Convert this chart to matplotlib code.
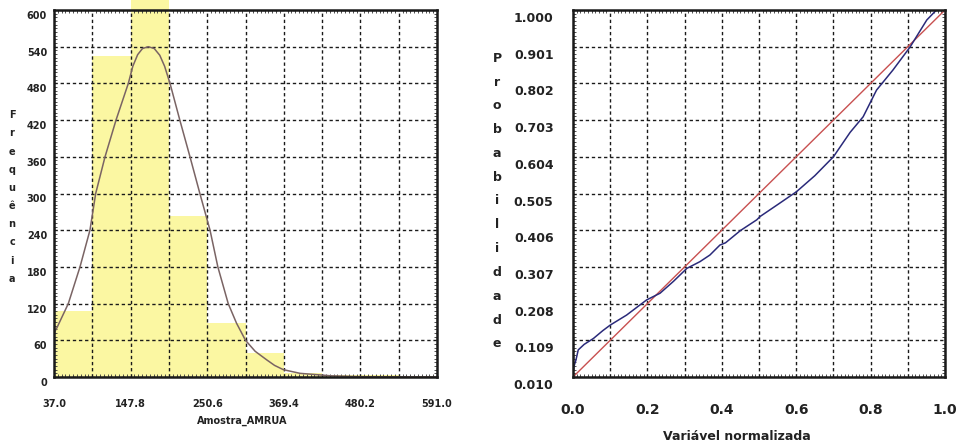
import matplotlib
matplotlib.use('Agg')
import matplotlib.pyplot as plt
import matplotlib.transforms as mtransforms
from matplotlib.ticker import AutoMinorLocator

# ---------------- data: left panel (histogram + fitted curve) ----------------
bin_edges = [37.0, 92.4, 147.8, 203.2, 258.6, 314.0, 369.4, 424.8, 480.2, 535.6]
bin_width = 55.4
bin_counts = [108, 525, 620, 263, 88, 40, 7, 4, 3, 2]

curve_x = [37.0, 41.0, 57.7, 74.6, 89.0, 97.3, 110.8, 126.7, 144.5, 151.0, 158.0, 165.0,
           173.4, 182.0, 190.0, 197.0, 204.8, 219.0, 233.7, 248.0, 262.7, 274.0, 289.0,
           301.0, 314.0, 328.0, 344.7, 356.0, 368.7, 392.8, 437.0, 480.0, 591.0]
curve_y = [72, 80, 120, 180, 240, 300, 360, 420, 480, 508, 527, 537,
           540, 537, 526, 508, 480, 420, 360, 300, 240, 180, 120,
           88, 60, 42, 28, 19, 12, 6, 2, 0.5, 0]

hist_grid_x = [37.0, 92.4, 147.8, 203.2, 258.6, 314.0, 369.4, 424.8, 480.2, 535.6, 591.0]
hist_xlabels = ['37.0', '', '147.8', '', '250.6', '', '369.4', '', '480.2', '', '591.0']
hist_yticks = [0, 60, 120, 180, 240, 300, 360, 420, 480, 540, 600]

# ---------------- data: right panel (probability plot) ----------------
ref_x = [0.0, 1.0]
ref_y = [0.010, 1.000]

emp_x = [0.0, 0.003, 0.008, 0.014, 0.030, 0.055, 0.080, 0.100, 0.144, 0.198, 0.234,
         0.270, 0.306, 0.341, 0.368, 0.395, 0.410, 0.450, 0.494, 0.503, 0.550,
         0.601, 0.650, 0.700, 0.745, 0.780, 0.816, 0.860, 0.906, 0.951, 0.977]
emp_y = [0.020, 0.040, 0.056, 0.083, 0.098, 0.114, 0.135, 0.150, 0.177, 0.218, 0.236,
         0.268, 0.303, 0.321, 0.339, 0.366, 0.372, 0.405, 0.434, 0.443, 0.475,
         0.510, 0.553, 0.604, 0.670, 0.712, 0.784, 0.838, 0.900, 0.973, 1.000]

prob_xticks = [0.0, 0.1, 0.2, 0.3, 0.4, 0.5, 0.6, 0.7, 0.8, 0.9, 1.0]
prob_xlabels = ['0.0', '', '0.2', '', '0.4', '', '0.6', '', '0.8', '', '1.0']
prob_yticks = [0.010, 0.109, 0.208, 0.307, 0.406, 0.505, 0.604, 0.703, 0.802, 0.901, 1.000]

# ---------------- figure ----------------
W, H = 956, 445
fig = plt.figure(figsize=(W / 100, H / 100), dpi=100)
fig.patch.set_facecolor('white')

def px_rect(x0, x1, ytop, ybot):
    return [x0 / W, 1 - ybot / H, (x1 - x0) / W, (ybot - ytop) / H]

ax1 = fig.add_axes(px_rect(54, 437, 10, 377))
ax2 = fig.add_axes(px_rect(573, 945, 10, 377))

grid_kw = dict(color='#1a1a1a', linestyle=(0, (2.4, 2.0)), linewidth=1.0)

# ---- left panel ----
ax1.bar(bin_edges, bin_counts, width=bin_width, align='edge', color='#fbf7a2',
        edgecolor='none', zorder=1, clip_on=False)
ax1.plot(curve_x, curve_y, color='#7a6464', linewidth=1.1, zorder=4)
ax1.set_xlim(37.0, 591.0)
ax1.set_ylim(0, 600)
ax1.set_xticks(hist_grid_x)
ax1.set_xticklabels(hist_xlabels)
ax1.set_yticks(hist_yticks)
ax1.set_yticklabels([str(v) for v in hist_yticks])
ax1.set_axisbelow(False)
ax1.grid(True, **grid_kw, zorder=3)
ax1.tick_params(axis='both', which='major', length=0, labelsize=7, colors='#222222')
ax1.tick_params(axis='x', pad=16)
ax1.tick_params(axis='y', pad=5)
for lab in ax1.get_xticklabels() + ax1.get_yticklabels():
    lab.set_fontweight('bold')
off1 = mtransforms.ScaledTranslation(0, -0.05, fig.dpi_scale_trans)
for lab in ax1.get_yticklabels():
    lab.set_transform(lab.get_transform() + off1)
ax1.xaxis.set_minor_locator(AutoMinorLocator(10))
ax1.yaxis.set_minor_locator(AutoMinorLocator(10))
ax1.tick_params(which='minor', direction='in', length=2.5, width=0.6,
                top=True, right=True, left=True, bottom=True, color='#333333')
for s in ax1.spines.values():
    s.set_linewidth(1.8)
    s.set_color('#1a1a1a')
    s.set_zorder(5)
fig.text(242 / W, 1 - 421 / H, 'Amostra_AMRUA', ha='center', va='center',
         fontsize=7, fontweight='bold', color='#222222')
fig.text(12 / W, 1 - 197 / H, '\n'.join('Frequência'), ha='center', va='center',
         fontsize=7, fontweight='bold', color='#222222', linespacing=2.02)

# ---- right panel ----
ax2.plot(ref_x, ref_y, color='#c85050', linewidth=1.0, zorder=4)
ax2.plot(emp_x, emp_y, color='#2a2a7a', linewidth=1.1, zorder=4)
ax2.set_xlim(0.0, 1.0)
ax2.set_ylim(0.010, 1.000)
ax2.set_xticks(prob_xticks)
ax2.set_xticklabels(prob_xlabels)
ax2.set_yticks(prob_yticks)
ax2.set_yticklabels(['%.3f' % v for v in prob_yticks])
ax2.set_axisbelow(False)
ax2.grid(True, **grid_kw, zorder=3)
ax2.tick_params(axis='both', which='major', length=0, labelsize=9, colors='#222222')
ax2.tick_params(axis='x', pad=19, labelsize=10)
ax2.tick_params(axis='y', pad=14)
for lab in ax2.get_xticklabels() + ax2.get_yticklabels():
    lab.set_fontweight('bold')
off2 = mtransforms.ScaledTranslation(0, -0.07, fig.dpi_scale_trans)
for lab in ax2.get_yticklabels():
    lab.set_transform(lab.get_transform() + off2)
ax2.xaxis.set_minor_locator(AutoMinorLocator(10))
ax2.yaxis.set_minor_locator(AutoMinorLocator(10))
ax2.tick_params(which='minor', direction='in', length=2.5, width=0.6,
                top=True, right=True, left=True, bottom=True, color='#333333')
for s in ax2.spines.values():
    s.set_linewidth(1.8)
    s.set_color('#1a1a1a')
    s.set_zorder(5)
fig.text(737 / W, 1 - 437 / H, 'Variável normalizada', ha='center', va='center',
         fontsize=9, fontweight='bold', color='#222222')
fig.text(497 / W, 1 - 201 / H, '\n'.join('Probabilidade'), ha='center', va='center',
         fontsize=9, fontweight='bold', color='#222222', linespacing=2.08)

fig.savefig('out.png', dpi=100, facecolor='white')
